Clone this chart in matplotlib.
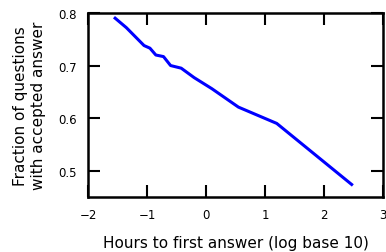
import numpy as np
import matplotlib.pyplot as plt

# log10(hours to first answer) vs fraction with accepted answer
log_hours = [-1.54, -1.35, -1.2, -1.05, -0.95, -0.85, -0.72, -0.6, -0.42,
             -0.2, 0.1, 0.55, 1.2, 2.47]
frac_accepted = [0.790, 0.772, 0.755, 0.738, 0.733, 0.720, 0.717, 0.700,
                 0.695, 0.677, 0.656, 0.621, 0.590, 0.474]

fig = plt.figure(figsize=(3.86, 2.53), dpi=100)
ax = fig.add_axes([0.228, 0.217, 0.764, 0.728])

ax.plot(log_hours, frac_accepted, color='blue', linewidth=2.2)

ax.set_xlim(-2, 3)
ax.set_ylim(0.45, 0.8)
ax.set_xticks([-2, -1, 0, 1, 2, 3])
ax.set_yticks([0.5, 0.6, 0.7, 0.8])

for s in ax.spines.values():
    s.set_linewidth(1.8)
ax.tick_params(direction='in', length=8.5, width=1.5, pad=8,
               labelsize=8.5, top=True, right=True)

ax.set_xlabel('Hours to first answer (log base 10)', fontsize=11, labelpad=10)
ax.set_ylabel('Fraction of questions\nwith accepted answer', fontsize=11,
              labelpad=9)

fig.savefig('out.png', dpi=100)
